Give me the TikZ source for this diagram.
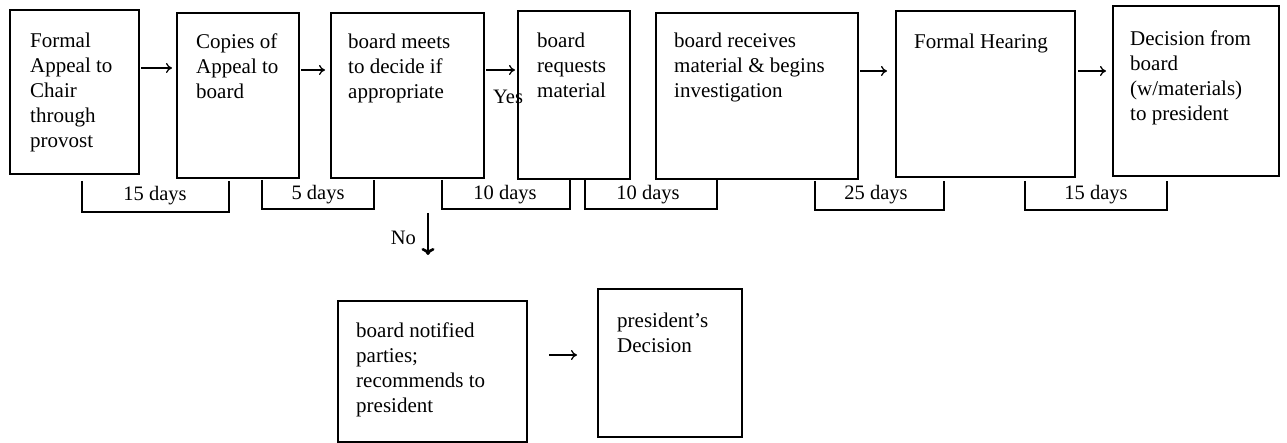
\documentclass[tikz,border=0pt]{standalone}
\usepackage{fontspec}
\setmainfont{Liberation Serif}
\usetikzlibrary{arrows.meta}
\begin{document}
\begin{tikzpicture}[x=1pt,y=-1pt,
 box/.style={draw, line width=2.4pt, inner sep=0pt, anchor=north west},
 txt/.style={anchor=north west, inner sep=0pt, align=left, font=\fontsize{21}{25}\selectfont},
 lbl/.style={anchor=base, inner sep=0pt, font=\fontsize{20.5}{24}\selectfont},
 brk/.style={line width=1.3pt},
 arr/.style={line width=1.3pt, -{To[length=6pt,width=10pt]}},
 noarr/.style={line width=2.6pt, -{To[length=7pt,width=13pt]}},
]
\useasboundingbox (0,0) rectangle (1287,443);
% Yes label (drawn first, box 4 overlaps it)
\node[lbl, anchor=base west] (yes) at (493,104) {Yes};
% boxes
\node[box, minimum width=129pt, minimum height=164pt] (b1) at (9,9) {};
\node[box, minimum width=122pt, minimum height=165pt] (b2) at (176,12) {};
\node[box, minimum width=153pt, minimum height=165pt] (b3) at (330,12) {};
\node[box, minimum width=112pt, minimum height=168pt] (b4) at (517,10) {};
\node[box, minimum width=202pt, minimum height=166pt] (b5) at (655,12) {};
\node[box, minimum width=179pt, minimum height=166pt] (b6) at (895,10) {};
\node[box, minimum width=166pt, minimum height=170pt] (b7) at (1112,5) {};
\node[box, minimum width=189pt, minimum height=141pt] (b8) at (337,300) {};
\node[box, minimum width=144pt, minimum height=148pt] (b9) at (597,288) {};
% texts
\node[txt] (t1) at (30,33) {Formal\\Appeal to\\Chair\\through\\provost};
\node[txt] (t2) at (196,34) {Copies of\\Appeal to\\board};
\node[txt] (t3) at (348,34) {board meets\\to decide if\\appropriate};
\node[txt] (t4) at (537,33) {board\\requests\\material};
\node[txt] (t5) at (674,33) {board receives\\material \& begins\\investigation};
\node[txt] (t6) at (914,34) {Formal Hearing};
\node[txt] (t7) at (1130,31) {Decision from\\board\\(w/materials)\\to president};
\node[txt] (t8) at (356,323) {board notified\\parties;\\recommends to\\president};
\node[txt] (t9) at (617,313) {president’s\\Decision};
% day brackets
\draw[brk] (82,181) -- (82,212) -- (229,212) -- (229,181);
\node[lbl] (d1) at (155,201) {15 days};
\draw[brk] (262,180) -- (262,209) -- (374,209) -- (374,180);
\node[lbl] (d2) at (318,200) {5 days};
\draw[brk] (442,180) -- (442,209) -- (570,209) -- (570,180);
\node[lbl] (d3) at (505,200) {10 days};
\draw[brk] (585,180) -- (585,209) -- (717,209) -- (717,180);
\node[lbl] (d4) at (648,200) {10 days};
\draw[brk] (815,181) -- (815,210) -- (944,210) -- (944,181);
\node[lbl] (d5) at (876,200) {25 days};
\draw[brk] (1025,181) -- (1025,210) -- (1167,210) -- (1167,181);
\node[lbl] (d6) at (1096,200) {15 days};
% arrows
\draw[arr, shorten <=1pt, shorten >=4pt] (b1.east |- 0,68) -- (b2.west |- 0,68);
\draw[arr, shorten <=1pt, shorten >=5pt] (b2.east |- 0,70) -- (b3.west |- 0,70);
\draw[arr, shorten <=1pt, shorten >=2pt] (b3.east |- 0,70) -- (b4.west |- 0,70);
\draw[arr, shorten <=1pt, shorten >=8pt] (b5.east |- 0,71) -- (b6.west |- 0,71);
\draw[arr, shorten <=2pt, shorten >=6pt] (b6.east |- 0,71) -- (b7.west |- 0,71);
\draw[arr, shorten <=21pt, shorten >=20pt] (b8.east |- 0,355) -- (b9.west |- 0,355);
% No arrow
\coordinate (nostart) at (428,213);
\coordinate (noend) at (428,255);
\draw[noarr] (nostart) -- (noend);
\node[lbl, anchor=base east] (no) at (416,245) {No};
\end{tikzpicture}
\end{document}
